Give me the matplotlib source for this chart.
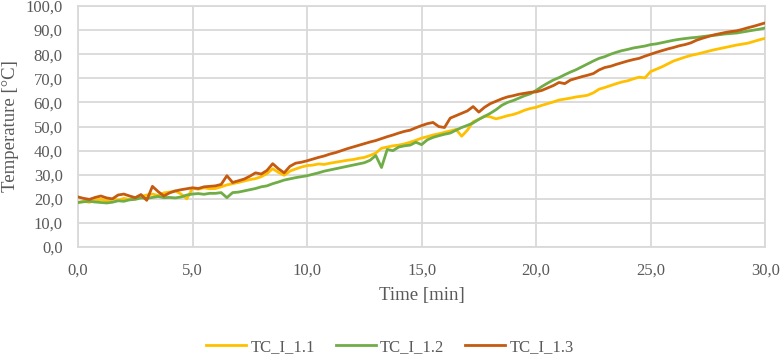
import numpy as np
import matplotlib
matplotlib.use("Agg")
import matplotlib.pyplot as plt
from matplotlib.ticker import FuncFormatter, MultipleLocator

plt.rcParams['font.family'] = ['Liberation Serif', 'DejaVu Serif']

# time axis in minutes, sampled every 0.25 min
time_min = np.arange(0, 30.01, 0.25)

tc_1_1 = [
    18.5, 19.0, 18.6, 19.4, 19.8, 19.2, 19.9, 19.5,
    20.2, 19.8, 20.4, 21.0, 21.6, 22.0, 21.4, 22.5,
    22.8, 23.3, 22.0, 20.0, 24.4, 24.0, 24.6, 24.2,
    24.3, 25.0, 25.8, 26.3, 26.8, 27.4, 28.0, 28.4,
    29.2, 30.5, 32.5, 31.0, 29.8, 31.5, 32.4, 33.2,
    33.8, 34.0, 34.5, 34.3, 34.8, 35.2, 35.6, 36.0,
    36.3, 36.8, 37.2, 38.0, 39.0, 41.0, 41.5, 42.0,
    42.3, 42.8, 43.5, 44.3, 45.2, 45.8, 46.5, 47.0,
    47.6, 48.2, 48.8, 46.0, 48.5, 52.0, 53.0, 54.4,
    54.0, 53.2, 53.8, 54.5, 55.0, 55.8, 56.8, 57.5,
    58.0, 58.8, 59.5, 60.2, 61.0, 61.4, 61.8, 62.3,
    62.6, 63.0, 64.0, 65.5, 66.2, 67.0, 67.8, 68.5,
    69.0, 69.8, 70.5, 70.2, 72.8, 73.8, 74.8, 76.0,
    77.2, 78.0, 78.8, 79.5, 80.0, 80.6, 81.2, 81.8,
    82.3, 82.8, 83.3, 83.8, 84.2, 84.6, 85.3, 86.0,
    86.6,
]

tc_1_2 = [
    18.5, 18.8, 19.0, 18.7, 18.5, 18.3, 18.6, 19.2,
    19.0, 19.6, 19.8, 20.4, 20.2, 20.6, 21.0, 20.5,
    20.6, 20.4, 20.8, 21.6, 22.0, 22.2, 21.9, 22.3,
    22.3, 22.6, 20.5, 22.6, 22.8, 23.3, 23.8, 24.3,
    25.0, 25.4, 26.3, 27.0, 27.8, 28.3, 28.8, 29.2,
    29.6, 30.2, 30.8, 31.5, 32.0, 32.5, 33.0, 33.5,
    34.0, 34.5, 35.0, 36.0, 38.0, 33.0, 40.5, 40.0,
    41.5, 42.0, 42.3, 43.5, 42.5, 44.5, 45.5, 46.2,
    46.8, 47.3, 48.5, 49.6, 50.5, 51.5, 53.0, 54.2,
    55.5, 57.0, 58.8, 60.0, 60.8, 61.8, 62.8, 63.6,
    65.0, 66.6, 68.0, 69.3, 70.3, 71.5, 72.6, 73.6,
    74.8, 76.0, 77.2, 78.3, 79.0, 80.0, 80.8, 81.5,
    82.0, 82.6, 83.0, 83.4, 84.0, 84.3, 84.8, 85.3,
    85.8, 86.2, 86.5, 86.8, 87.0, 87.3, 87.6, 87.8,
    88.1, 88.4, 88.6, 88.8, 89.2, 89.6, 90.0, 90.4,
    90.9,
]

tc_1_3 = [
    20.8, 20.2, 19.8, 20.6, 21.2, 20.4, 20.0, 21.6,
    22.0, 21.2, 20.5, 21.8, 19.4, 25.2, 23.0, 21.2,
    22.5, 23.3, 23.8, 24.2, 24.6, 24.3, 25.0, 25.2,
    25.4, 26.0, 29.6, 26.8, 27.5, 28.2, 29.4, 30.8,
    30.3, 31.8, 34.6, 32.5, 30.8, 33.5, 34.8, 35.2,
    35.8, 36.5, 37.2, 37.8, 38.6, 39.2, 40.0, 40.8,
    41.5, 42.2, 42.9, 43.6, 44.2, 45.0, 45.8, 46.5,
    47.3, 48.0, 48.5, 49.5, 50.4, 51.2, 51.7, 50.0,
    49.6, 53.5, 54.5, 55.5, 56.5, 58.3, 56.0, 58.0,
    59.5, 60.5, 61.5, 62.3, 62.8, 63.4, 63.8, 64.2,
    64.4, 65.0, 66.0, 67.0, 68.3, 67.8, 69.3, 70.0,
    70.7, 71.3, 72.0, 73.5, 74.5, 75.0, 75.8, 76.5,
    77.2, 77.8, 78.3, 79.2, 80.0, 80.8, 81.5, 82.2,
    82.8, 83.5, 84.0, 84.7, 85.8, 86.6, 87.3, 88.0,
    88.5, 89.0, 89.4, 89.7, 90.3, 91.0, 91.6, 92.3,
    93.0,
]

labels = ["TC_I_1.1", "TC_I_1.2", "TC_I_1.3"]
colors = ["#FFC000", "#70AD47", "#C55A11"]

fig = plt.figure(figsize=(7.8, 3.54), dpi=100)
ax = fig.add_axes([0.1, 0.302, 0.881, 0.681])

for y, lab, c in zip([tc_1_1, tc_1_2, tc_1_3], labels, colors):
    ax.plot(time_min, y, color=c, lw=2.0, label=lab, zorder=3)

ax.set_xlim(0, 30)
ax.set_ylim(0, 100)
ax.xaxis.set_major_locator(MultipleLocator(5))
ax.yaxis.set_major_locator(MultipleLocator(10))
fmt = FuncFormatter(lambda v, p: ("%.1f" % v).replace(".", ","))
ax.xaxis.set_major_formatter(fmt)
ax.yaxis.set_major_formatter(fmt)

ax.grid(True, color="#d9d9d9", lw=1.3, zorder=0)
for s in ax.spines.values():
    s.set_color("#d9d9d9")
    s.set_linewidth(1.3)
ax.tick_params(length=0, labelsize=12, colors="#595959")
ax.tick_params(axis="y", pad=11)
ax.tick_params(axis="x", pad=11)

ax.set_xlabel("Time [min]", fontsize=13.5, color="#595959", labelpad=6)
ax.set_ylabel("Temperature [°C]", fontsize=13.5, color="#595959", labelpad=5)

fig.legend(loc="center", bbox_to_anchor=(0.5, 0.02), ncol=3, frameon=False,
           fontsize=12, handlelength=2.4, handletextpad=0.25,
           columnspacing=1.25, labelcolor="#595959")

fig.savefig("out.png", dpi=100)
